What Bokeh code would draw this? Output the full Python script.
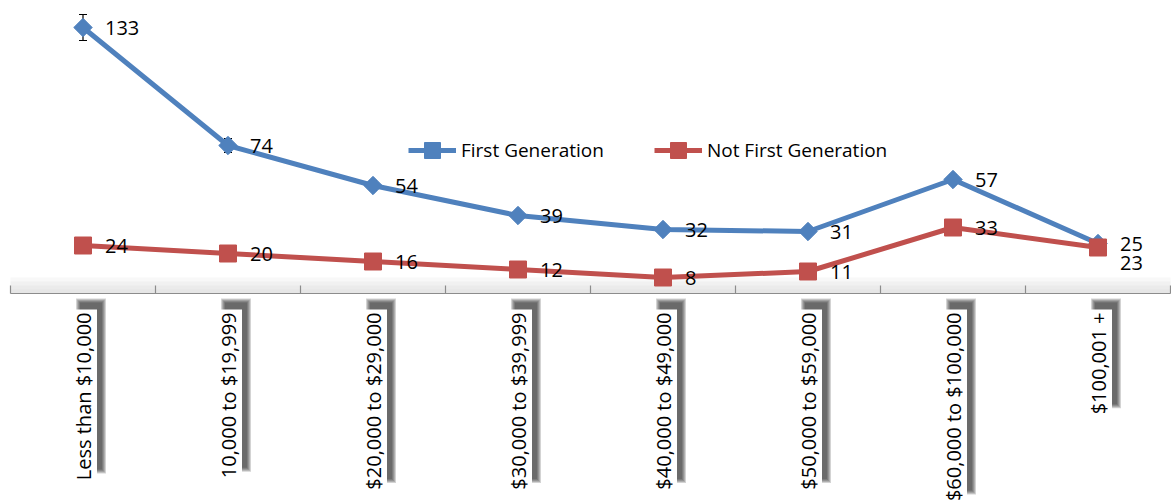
import math
from bokeh.plotting import figure
from bokeh.models import Range1d, Legend
from bokeh.core.properties import value
from bokeh.embed import file_html
from bokeh.resources import INLINE

# ---- data ----
categories = ["Less than $10,000", "10,000 to $19,999", "$20,000 to $29,000",
              "$30,000 to $39,999", "$40,000 to $49,000", "$50,000 to $59,000",
              "$60,000 to $100,000", "$100,001 +"]
first_gen = [133, 74, 54, 39, 32, 31, 57, 25]
first_gen_err = [6.5, 3.5, 2.5, 1, 1, 1, 2.5, 1]
not_first_gen = [24, 20, 16, 12, 8, 11, 33, 23]
series_names = ["First Generation", "Not First Generation"]

# ---- style ----
BLUE = "#4F81BD"
RED = "#C0504D"
FONT = "Open Sans"
FS = 20
FS_LEG = 19

W, H = 1171, 504
n = len(categories)
XPAD_L, XPAD_R = 10, 1       # px
PXX = (W - XPAD_L - XPAD_R) / n   # px per category
x_start = -XPAD_L / PXX
x_end = n + XPAD_R / PXX
PXY = 2.0                   # px per value unit
Y_TOP_PX = 293              # px from top of frame to y=0
y_end = Y_TOP_PX / PXY
y_start = -(H - Y_TOP_PX) / PXY

p = figure(width=W, height=H, output_backend="svg", toolbar_location=None,
           x_range=Range1d(x_start, x_end), y_range=Range1d(y_start, y_end),
           min_border=0, min_border_left=0, min_border_right=0,
           min_border_top=0, min_border_bottom=0,
           outline_line_color=None, background_fill_color="white",
           border_fill_color="white")
p.xaxis.visible = False
p.yaxis.visible = False
p.xgrid.visible = False
p.ygrid.visible = False

xs = [i + 0.5 for i in range(n)]

# ---- axis band, line, ticks ----
for k in range(1, 5):
    p.quad(left=[0], right=[n], bottom=[0], top=[k * 2.0],
           fill_color="#bfbfbf", fill_alpha=0.10, line_color=None)
p.segment(x0=[0], y0=[0], x1=[n], y1=[0], line_color="#8c8c8c", line_width=1.2)
bounds = list(range(n + 1))
p.segment(x0=bounds, y0=[0] * len(bounds), x1=bounds, y1=[8 / PXY] * len(bounds),
          line_color="#8c8c8c", line_width=1.2)

# ---- category label boxes with shadow ----
cw = {d: 0.572 for d in "0123456789$+"}
cw.update({",": 0.254, " ": 0.26, "t": 0.344, "o": 0.593, "L": 0.519,
           "e": 0.561, "s": 0.467, "h": 0.614, "a": 0.556, "n": 0.614})
text_len = [sum(cw.get(c, 0.57) for c in s) * FS for s in categories]
LABEL_TOP = 19   # px below axis
box_len = [L + 6 for L in text_len]
box_cy = [-(LABEL_TOP - 3 + bl / 2) / PXY for bl in box_len]
for k in range(5):
    p.rect(x=[x + 8 / PXX for x in xs], y=[c + 10 / PXY for c in box_cy],
           width=22 + 2 * k, height=[bl - 6 + 2 * k for bl in box_len],
           width_units="screen", height_units="screen",
           fill_color="#222222", fill_alpha=0.2, line_color=None)
p.rect(x=xs, y=box_cy, width=28, height=box_len,
       width_units="screen", height_units="screen",
       fill_color="white", line_color=None)
p.text(x=xs, y=[-LABEL_TOP / PXY] * n, text=categories, angle=math.pi / 2,
       text_align="right", text_baseline="middle",
       text_font=value(FONT), text_font_size=f"{FS}px", text_color="black")

# ---- error bars (first generation) ----
up = [v + e for v, e in zip(first_gen, first_gen_err)]
lo = [v - e for v, e in zip(first_gen, first_gen_err)]
cap = 4 / PXX
p.segment(x0=xs, y0=lo, x1=xs, y1=up, line_color="black", line_width=1.2)
p.segment(x0=[x - cap for x in xs], y0=up, x1=[x + cap for x in xs], y1=up,
          line_color="black", line_width=1.2)
p.segment(x0=[x - cap for x in xs], y0=lo, x1=[x + cap for x in xs], y1=lo,
          line_color="black", line_width=1.2)

# ---- series ----
l1 = p.line(xs, first_gen, line_width=5, line_color=BLUE, line_join="round")
m1 = p.scatter(xs, first_gen, marker="square", angle=math.pi / 4, size=13,
               fill_color=BLUE, line_color=BLUE)
l2 = p.line(xs, not_first_gen, line_width=5, line_color=RED, line_join="round")
m2 = p.scatter(xs, not_first_gen, marker="square", size=17,
               fill_color=RED, line_color=RED)

# ---- data labels ----
lab_dy1 = [0] * n
lab_dy2 = [0] * (n - 1) + [15]
p.text(x=xs, y=first_gen, text=[str(v) for v in first_gen], x_offset=22,
       y_offset=lab_dy1, text_align="left", text_baseline="middle",
       text_font=value(FONT), text_font_size=f"{FS}px", text_color="black")
p.text(x=xs, y=not_first_gen, text=[str(v) for v in not_first_gen], x_offset=22,
       y_offset=lab_dy2, text_align="left", text_baseline="middle",
       text_font=value(FONT), text_font_size=f"{FS}px", text_color="black")

# ---- legend ----
legend = Legend(items=[(series_names[0], [l1, m1]), (series_names[1], [l2, m2])],
                orientation="horizontal", location=(408, 334),
                glyph_width=48, glyph_height=40, label_height=40,
                label_standoff=5, spacing=50, padding=0, margin=0,
                border_line_color=None, background_fill_alpha=0,
                label_text_font=FONT, label_text_font_size=f"{FS_LEG}px",
                label_text_color="black")
p.add_layout(legend, "center")

open("out.html", "w").write(file_html(p, INLINE))
